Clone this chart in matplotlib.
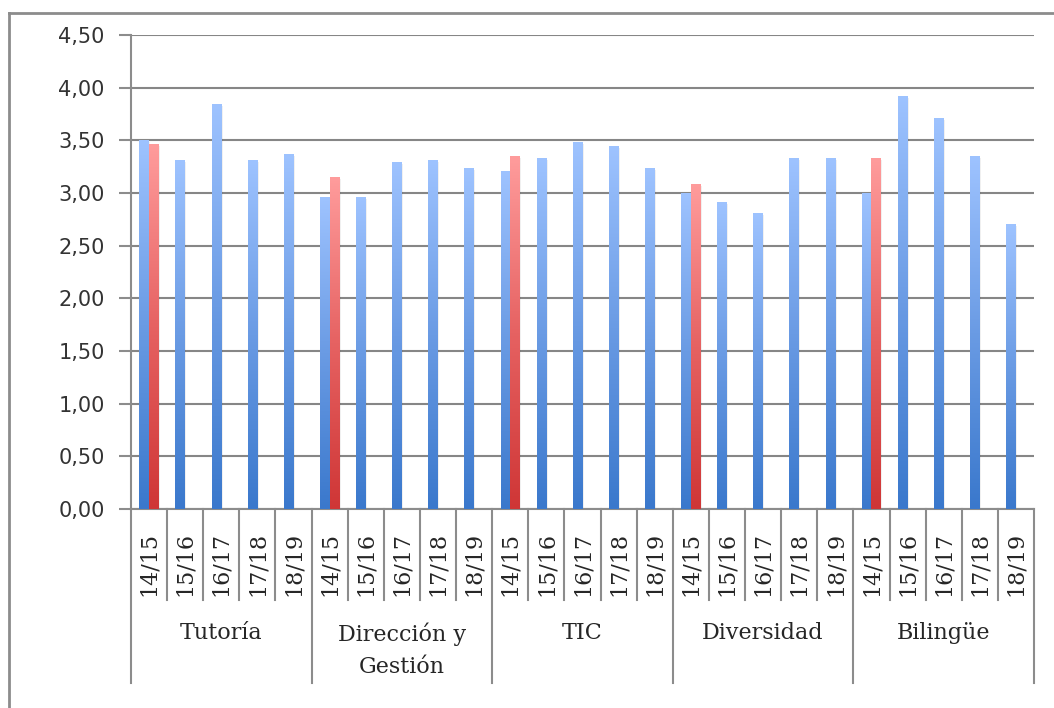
import numpy as np
import matplotlib
matplotlib.use("Agg")
import matplotlib.pyplot as plt
from matplotlib.colors import LinearSegmentedColormap
from matplotlib.lines import Line2D

categories = ["Tutoría", "Dirección y\nGestión", "TIC", "Diversidad", "Bilingüe"]
years = ["14/15", "15/16", "16/17", "17/18", "18/19"]

# blue series: one value per category x year
blue_values = [
    [3.50, 3.31, 3.84, 3.31, 3.37],
    [2.96, 2.96, 3.29, 3.31, 3.23],
    [3.20, 3.33, 3.48, 3.44, 3.23],
    [3.00, 2.91, 2.81, 3.33, 3.33],
    [3.00, 3.92, 3.71, 3.35, 2.70],
]
# red series: only present for 14/15
red_values = [3.46, 3.15, 3.35, 3.08, 3.33]

W, H, DPI = 1054, 708, 100
fig = plt.figure(figsize=(W / DPI, H / DPI), dpi=DPI)
L, R, T, B = 131, 1034, 35, 509
ax = fig.add_axes([L / W, 1 - B / H, (R - L) / W, (B - T) / H])

blue_cmap = LinearSegmentedColormap.from_list("b", ["#3A78CC", "#6A9BE4", "#9EC3FF"])
red_cmap = LinearSegmentedColormap.from_list("r", ["#CF3636", "#E66262", "#FF9C9C"])
grad = np.linspace(0, 1, 256).reshape(-1, 1)

bw = 0.27
n_years = len(years)

def gbar(x0, h, cmap):
    # soft shadow
    ax.add_patch(plt.Rectangle((x0 + 0.035, 0), bw, h - 0.015, color="#000000", alpha=0.06, lw=0, zorder=2))
    ax.imshow(grad, extent=[x0, x0 + bw, 0, h], origin="lower", cmap=cmap,
              aspect="auto", zorder=3, interpolation="bicubic")

for ci, cat in enumerate(categories):
    for yi in range(n_years):
        xc = ci * n_years + yi
        gbar(xc - bw, blue_values[ci][yi], blue_cmap)
        if yi == 0:
            gbar(xc, red_values[ci], red_cmap)

N = len(categories) * n_years
ax.set_xlim(-0.5, N - 0.5)
ax.set_ylim(0, 4.5)
ax.set_yticks(np.arange(0, 4.51, 0.5))
ax.set_yticklabels([f"{v:.2f}".replace(".", ",") for v in np.arange(0, 4.51, 0.5)],
                   fontsize=15, color="#333333", family="DejaVu Sans")
ax.tick_params(axis="y", length=9, width=1.5, color="#8C8C8C", pad=10)
ax.set_xticks([])
ax.grid(axis="y", color="#868686", lw=1.5, zorder=1)
ax.set_axisbelow(True)
for s in ["top", "right"]:
    ax.spines[s].set_visible(False)
ax.spines["left"].set_color("#8C8C8C")
ax.spines["left"].set_linewidth(1.5)
ax.spines["bottom"].set_color("#8C8C8C")
ax.spines["bottom"].set_linewidth(1.5)

tr = ax.get_xaxis_transform()
ah = B - T
def yfrac(py):
    return (B - py) / ah

# separators
for k in range(N + 1):
    x = k - 0.5
    y_end = 683 if k % n_years == 0 else 600
    ax.add_line(Line2D([x, x], [0, yfrac(y_end)], transform=tr, color="#8C8C8C",
                       lw=1.5, clip_on=False))

# year labels
for ci in range(len(categories)):
    for yi, yr in enumerate(years):
        xc = ci * n_years + yi
        ax.text(xc, yfrac(564), yr, transform=tr, rotation=90, ha="center", va="center",
                fontsize=16, family="DejaVu Serif", color="#262626")
    ax.text(ci * n_years + (n_years - 1) / 2, yfrac(622), categories[ci], transform=tr,
            ha="center", va="top", fontsize=16, family="DejaVu Serif", color="#262626",
            linespacing=1.6)

# outer chart border (top and left visible)
fig.add_artist(Line2D([9 / W, 1], [1 - 13 / H, 1 - 13 / H], transform=fig.transFigure,
                      color="#8C8C8C", lw=2))
fig.add_artist(Line2D([9 / W, 9 / W], [0, 1 - 13 / H], transform=fig.transFigure,
                      color="#8C8C8C", lw=2))

fig.savefig("out.png", dpi=DPI)
